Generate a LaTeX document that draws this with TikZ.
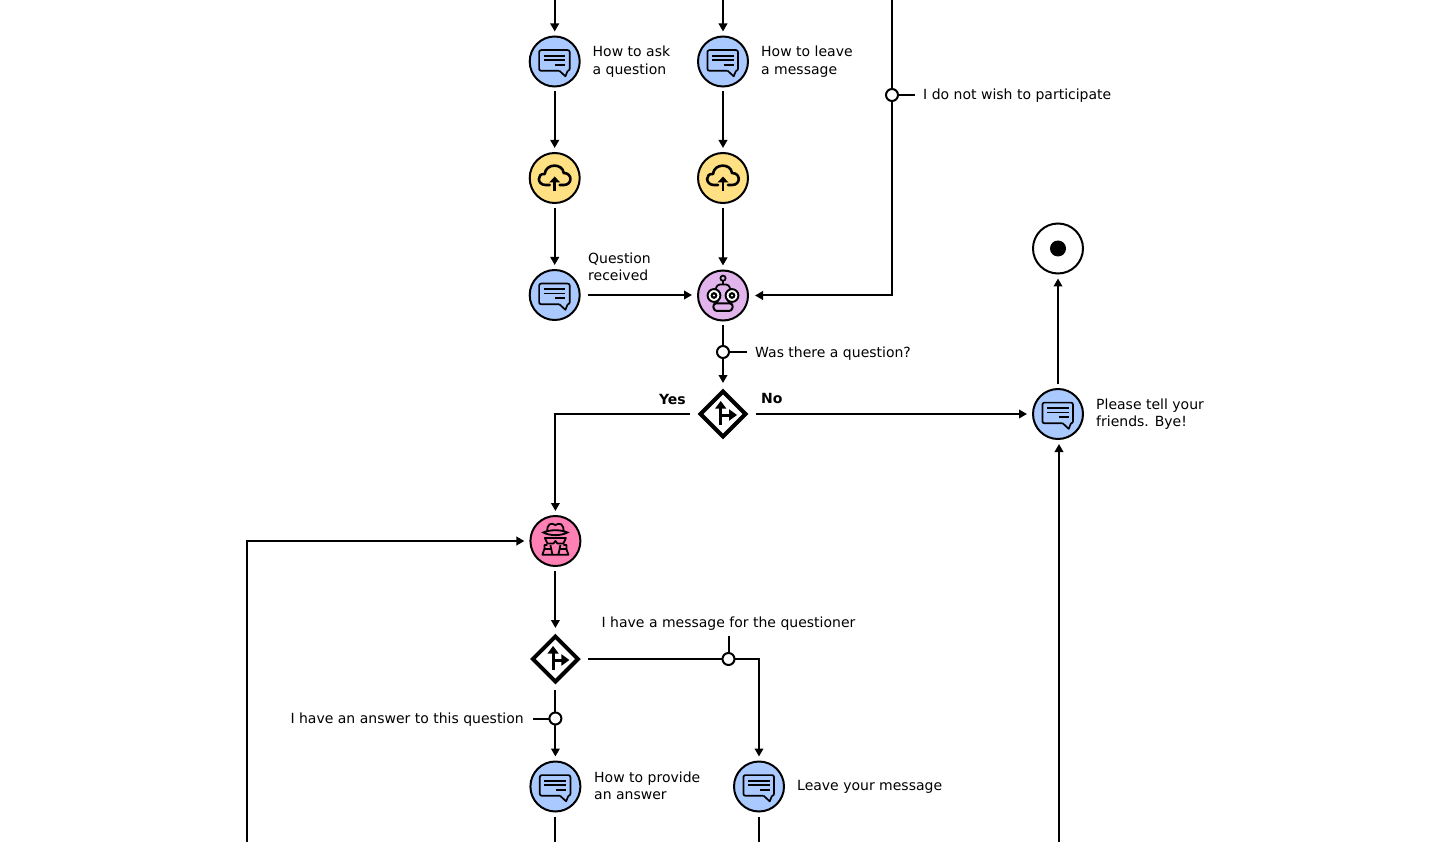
\documentclass[tikz,border=0pt]{standalone}
\usepackage{fontspec}
\setmainfont{DejaVu Sans}
\usetikzlibrary{shapes.geometric,arrows.meta}

\definecolor{msgblue}{HTML}{A9C9FF}
\definecolor{upyellow}{HTML}{FFE082}
\definecolor{botpurple}{HTML}{E1B4EC}
\definecolor{spypink}{HTML}{FF80B4}

\tikzset{
  % icons, drawn around the centre of their node
  pics/msgicon/.style={code={
      \draw[line width=1.7pt,line join=round,rounded corners=2pt]
        (4.7,9.3) -- (-15.6,9.3) -- (-15.6,-11.4) -- (15,-11.4) -- (15,9.3) -- (13,9.3);
      \draw[line width=1.7pt,line join=round] (4.7,9.3) -- (10.7,14.8) -- (13,9.3);
      \draw[line width=1.7pt] (-11,-5.7) -- (10.7,-5.7) (-11,-1.4) -- (10.7,-1.4) (0.7,3.3) -- (10.7,3.3);
  }},
  pics/upicon/.style={code={
      \draw[line width=2.6pt,line cap=round,line join=round]
        (-5,7) -- (-9,7) .. controls (-18,7) and (-18,-5) .. (-10,-4)
        .. controls (-9,-15) and (8,-15) .. (9,-5)
        .. controls (18,-5) and (18,7) .. (9,7) -- (5,7);
      \draw[line width=2.6pt] (0,13) -- (0,3);
      \fill (0,-1.5) -- (5.5,4.5) -- (-5.5,4.5) -- cycle;
  }},
  pics/boticon/.style={code={
      \draw[line width=1.7pt] (0,-17.3) circle (2.6) (0,-14.7) -- (0,-11);
      \draw[line width=1.8pt,fill=botpurple,rounded corners=3pt] (-8,-3) -- (-6,-11) -- (6,-11) -- (8,-3);
      \draw[line width=2pt,fill=botpurple,rounded corners=3pt] (-10,8) -- (10,8) -- (9,15.5) -- (-9,15.5) -- cycle;
      \draw[line width=2pt] (-5,5) -- (-7,8) (5,5) -- (7,8);
      \draw[line width=1.9pt,fill=white] (-9,0) circle (6.4) (9,0) circle (6.4);
      \fill (-9,0) circle (3.4) (9,0) circle (3.4);
      \fill[white] (-9,0) circle (1.2) (9,0) circle (1.2);
  }},
  pics/spyicon/.style={code={
      \draw[line width=1.8pt,line join=round] (-8,-8) .. controls (-9,-18) and (-4,-18.5) .. (0,-16)
        .. controls (4,-18.5) and (9,-18) .. (8,-8);
      \draw[line width=1.8pt,fill=spypink] (-12,-8.5) .. controls (-6,-5) and (6,-5) .. (12,-8.5)
        .. controls (6,-11.5) and (-6,-11.5) .. cycle;
      \draw[line width=1.8pt,line join=round] (-10.5,-3) -- (10.5,-3) -- (8,2.5) -- (2,2.5) -- (0,0) -- (-2,2.5) -- (-8,2.5) -- cycle;
      \draw[line width=1.8pt,line join=round] (-8,4) -- (-11,4) -- (-11,8) -- (-13,13.7) -- (13,13.7) -- (11,8) -- (11,4) -- (8,4);
      \draw[line width=1.8pt,line join=round] (-5,4) -- (-3,13.7) (5,4) -- (3,13.7) (-11,8) -- (-5,8) (11,8) -- (5,8);
  }},
  pics/roadicon/.style={code={
      \draw[line width=3pt] (-2.3,10.5) -- (-2.3,-7);
      \draw[line width=3pt] (-2.3,1) -- (7,1);
      \fill (-2.3,-13) -- (3.3,-5.5) -- (-7.9,-5.5) -- cycle;
      \fill (14,1) -- (6,-4.8) -- (6,6.8) -- cycle;
  }},
}

\begin{document}
\begin{tikzpicture}[x=1pt,y=-1pt,
    every node/.style={font=\fontsize{14}{17.5}\selectfont},
    roundnode/.style={circle,draw,line width=2pt,minimum size=50pt,inner sep=0pt,outer sep=5pt},
    msgnode/.style={roundnode,fill=msgblue},
    upnode/.style={roundnode,fill=upyellow},
    botnode/.style={roundnode,fill=botpurple},
    spynode/.style={roundnode,fill=spypink},
    endnode/.style={roundnode},
    splitnode/.style={diamond,draw,line width=4pt,minimum size=50pt,inner sep=0pt,outer sep=6pt},
    gatenode/.style={circle,draw,line width=2pt,fill=white,minimum size=12pt,inner sep=0pt,outer sep=0pt},
    labelnode/.style={align=left,anchor=west,inner sep=0pt},
    flow/.style={line width=2pt,-{Triangle[length=8pt,width=8.5pt]}},
    plainflow/.style={line width=2pt},
  ]

    \useasboundingbox (0,0) rectangle (1443,842);
    \clip (0,0) rectangle (1443,842);

    % free ends, off the page
    \coordinate (topask) at (554.7,-6);
    \coordinate (topleave) at (723,-6);
    \coordinate (topno) at (892,-6);
    \coordinate (botback) at (247,848);
    \coordinate (botbye) at (1059,848);
    \coordinate (botanswer) at (555.4,848);
    \coordinate (botleave) at (759,848);

    % the two columns at the top
    \node[msgnode] (askmsg) at (554.7,61.5) {};
    \node[upnode] (askup) at (554.7,178) {};
    \node[msgnode] (asked) at (554.7,295) {};
    \node[msgnode] (leavemsg) at (723,61.5) {};
    \node[upnode] (leaveup) at (723,178) {};
    \node[botnode] (bot) at (723,295.5) {};

    \node[labelnode] (asklabel) at (592.5,61.5) {How to ask\\a question};
    \node[labelnode] (leavelabel) at (761,61.5) {How to leave\\a message};
    \node[labelnode] (askedlabel) at (588,267) {Question\\received};

    % not participating
    \node[gatenode] (nogate) at (892,95) {};
    \node[labelnode] (nolabel) at (923,96) {I do not wish to participate};

    % the first question
    \node[gatenode] (qgate) at (723,352) {};
    \node[labelnode] (qlabel) at (755,354) {Was there a question?};
    \node[splitnode] (qsplit) at (723,414) {};
    \node[anchor=east,inner sep=0pt,font=\fontsize{14}{17.5}\selectfont\bfseries] (yeslabel) at (686,399) {Yes};
    \node[labelnode,font=\fontsize{14}{17.5}\selectfont\bfseries] (nolabelb) at (761,398) {No};

    % the end
    \node[msgnode] (bye) at (1058,414) {};
    \node[labelnode] (byelabel) at (1096,414) {Please tell your\\friends. Bye!};
    \node[endnode] (end) at (1058,248.5) {};
    \fill (end.center) circle (8);

    % the second part
    \node[spynode] (spy) at (555.4,541) {};
    \node[splitnode] (asplit) at (555.4,659) {};
    \node[gatenode] (mgate) at (728.5,659) {};
    \node[anchor=south,inner sep=0pt,outer sep=0pt] (mlabel) at (728.5,630) {I have a message for the questioner};
    \node[gatenode] (agate) at (555.4,718.5) {};
    \node[anchor=east,inner sep=0pt] (alabel) at (524,720) {I have an answer to this question};
    \node[msgnode] (answer) at (555.4,786.5) {};
    \node[labelnode] (answerlabel) at (594,786) {How to provide\\an answer};
    \node[msgnode] (leave) at (759,786.5) {};
    \node[labelnode] (leavetext) at (797,787) {Leave your message};

    % icons
    \pic at (askmsg) {msgicon};
    \pic at (leavemsg) {msgicon};
    \pic at (asked) {msgicon};
    \pic at (bye) {msgicon};
    \pic at (answer) {msgicon};
    \pic at (leave) {msgicon};
    \pic at (askup) {upicon};
    \pic at (leaveup) {upicon};
    \pic at (bot) {boticon};
    \pic at (spy) {spyicon};
    \pic at (qsplit) {roadicon};
    \pic at (asplit) {roadicon};

    % connectors
    \draw[flow] (topask) -- (askmsg);
    \draw[flow] (askmsg) -- (askup);
    \draw[flow] (askup) -- (asked);
    \draw[flow] (topleave) -- (leavemsg);
    \draw[flow] (leavemsg) -- (leaveup);
    \draw[flow] (leaveup) -- (bot);
    \draw[flow] ([xshift=3pt]asked.east) -- ([xshift=-1pt]asked.east -| bot.west);
    \draw[plainflow] (topno) -- (nogate);
    \draw[flow] (nogate) |- ([xshift=2pt]bot.east);
    \draw[plainflow] (nogate) -- ([xshift=-8pt]nogate -| nolabel.west);

    \draw[plainflow] (bot) -- (qgate);
    \draw[plainflow] (qgate) -- ([xshift=-8pt]qgate -| qlabel.west);
    \draw[flow] (qgate) -- (qsplit);
    \draw[flow] ([xshift=-2pt]qsplit.west) -| (spy);
    \draw[flow] ([xshift=2pt]qsplit.east) -- ([xshift=-1pt]bye.west);
    \draw[flow] (bye) -- (end);
    \draw[flow] (botbye) -- (botbye |- bye.south);

    \draw[flow] (botback) |- ([xshift=-1pt]spy.west);
    \draw[flow] (spy) -- (asplit);
    \draw[plainflow] ([xshift=2pt]asplit.east) -- (mgate);
    \draw[plainflow] (mgate) -- ([yshift=-6pt]mgate |- mlabel.south);
    \draw[flow] (mgate) -| (leave);
    \draw[plainflow] (asplit) -- (agate);
    \draw[plainflow] (agate) -- ([xshift=9pt]agate -| alabel.east);
    \draw[flow] (agate) -- (answer);
    \draw[plainflow] (answer) -- (botanswer);
    \draw[plainflow] (leave) -- (botleave);

\end{tikzpicture}
\end{document}
